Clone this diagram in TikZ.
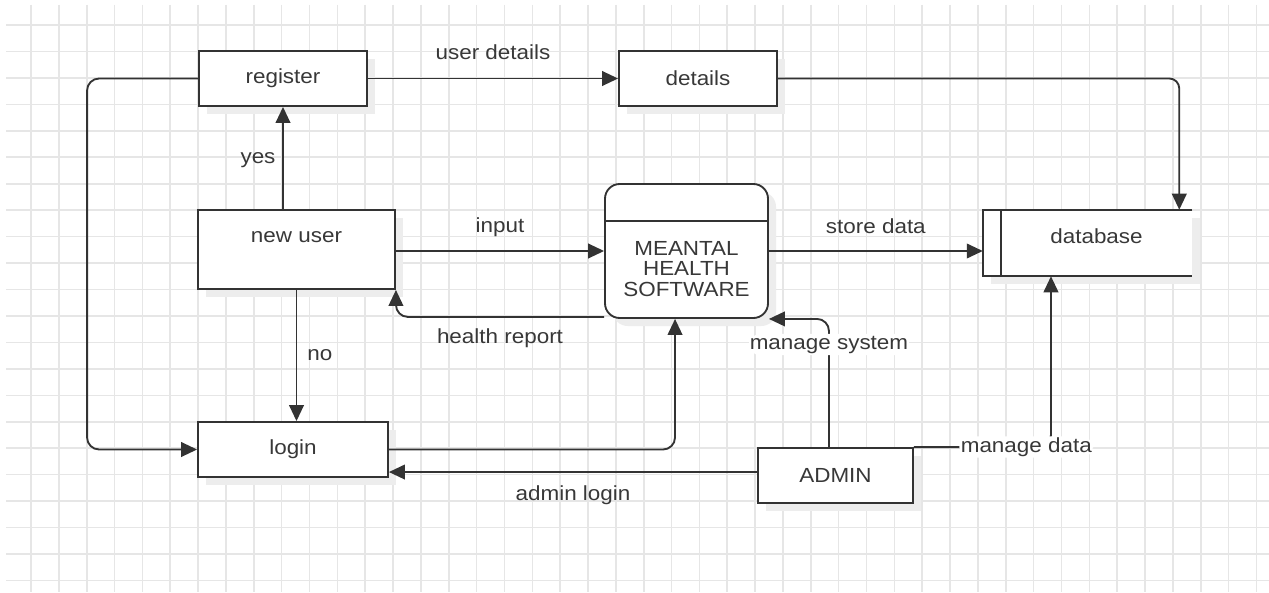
\documentclass[tikz,border=0pt]{standalone}
\usepackage{fontspec}
\setmainfont[FakeStretch=1.1]{Liberation Sans}
\usetikzlibrary{arrows.meta,calc}
\definecolor{linec}{HTML}{333333}
\definecolor{textc}{HTML}{383838}
\definecolor{gridc}{HTML}{E6E6E6}
\definecolor{shadowc}{HTML}{EDEDED}
\begin{document}
\begin{tikzpicture}[x=0.75pt,y=-0.75pt,
  every node/.style={font=\fontsize{15.3}{15.4}\selectfont, text=textc},
  gridline/.style={draw=gridc, line width=1.2pt},
  box/.style={draw=linec, line width=1.4pt, fill=white, rectangle, inner sep=0pt,
    preaction={fill=shadowc, transform canvas={xshift=6pt,yshift=-6pt}}},
  storebox/.style={fill=white, rectangle, inner sep=0pt,
    preaction={fill=shadowc, transform canvas={xshift=6pt,yshift=-6pt}}},
  outline/.style={draw=linec, line width=1.4pt},
  conn/.style={draw=linec, line width=1.4pt, -{Triangle[length=12pt,width=11pt]}},
  lbl/.style={inner sep=1pt, text height=10.8pt, text depth=3.2pt},
  lblbg/.style={lbl, fill=white}
]
\useasboundingbox (0,0) rectangle (1269,592);
\fill[white] (0,0) rectangle (1269,592);
% grid
\foreach \i in {0,...,44} \draw[gridline] ({31+27.85*\i},5) -- ({31+27.85*\i},592);
\foreach \j in {0,...,21} \draw[gridline] (6,{25+26.45*\j}) -- (1269,{25+26.45*\j});

% nodes
\node[box, minimum width=126pt, minimum height=41.25pt] (register) at (283,78.5) {register};
\node[box, minimum width=118.5pt, minimum height=41.25pt] (details) at (698,78.5) {details};
\node[box, minimum width=147.75pt, minimum height=59.25pt,
  label={[yshift=9.4pt]center:new user}] (newuser) at (296.5,249.5) {};
\node[box, rounded corners=11pt, minimum width=122.25pt, minimum height=100.5pt,
  label={[yshift=-13.3pt, align=center]center:{MEANTAL\\HEALTH\\SOFTWARE}}] (mhs) at (686.5,251) {};
\draw[outline] ($(mhs.north west)+(0,38)$) -- ($(mhs.north east)+(0,38)$);
\node[storebox, minimum width=156.75pt, minimum height=49.5pt,
  label={[xshift=6.75pt, yshift=5.25pt]center:database}] (db) at (1087.5,243) {};
\draw[outline] (db.north east) -- (db.north west) -- (db.south west) -- (db.south east);
\draw[outline] ($(db.north west)+(18,0)$) -- ($(db.south west)+(18,0)$);
\node[box, minimum width=142.5pt, minimum height=41.25pt] (login) at (293,449.5) {login};
\node[box, minimum width=116.25pt, minimum height=41.25pt] (admin) at (835.5,475.5) {ADMIN};

% connectors
\draw[conn] (register.east) -- node[lbl, yshift=18.4pt]{user details} (details.west);
\draw[conn, rounded corners=7.5pt] (details.east) -| ([xshift=-9.75pt]db.north east);
\draw[conn] (newuser.north -| register.south) -- node[lbl, xshift=-18.75pt]{yes} (register.south);
\draw[conn, rounded corners=9pt] (register.west) -- ++(-111,0) |- (login.west);
\draw[conn] (newuser.south) -- node[lbl, xshift=17.6pt]{no} (newuser.south |- login.north);
\draw[conn] (mhs.west -| newuser.east) -- node[lbl, yshift=18pt]{input} (mhs.west);
\draw[conn, rounded corners=9pt] ([yshift=1.5pt]mhs.south west) -| node[lbl, pos=0.25, yshift=-15.75pt]{health report} (newuser.south east);
\draw[conn] (mhs.east) -- node[lbl, yshift=17.25pt]{store data} (mhs.east -| db.west);
\draw[conn, rounded corners=9pt] (login.east) -| ([xshift=-8.6pt]mhs.south);
\draw[conn] ([yshift=2.6pt]admin.west) -- node[lbl, yshift=-17.25pt]{admin login} ([yshift=2.6pt]admin.west -| login.east);
\draw[conn, rounded corners=9pt] ([xshift=-4.9pt]admin.north) |- node[lblbg, pos=0.4]{manage system} (mhs.south east);
\draw[conn, rounded corners=9pt] (admin.north east) -| node[lblbg, pos=0.41]{manage data} ([xshift=-27.4pt]db.south);
\end{tikzpicture}
\end{document}
